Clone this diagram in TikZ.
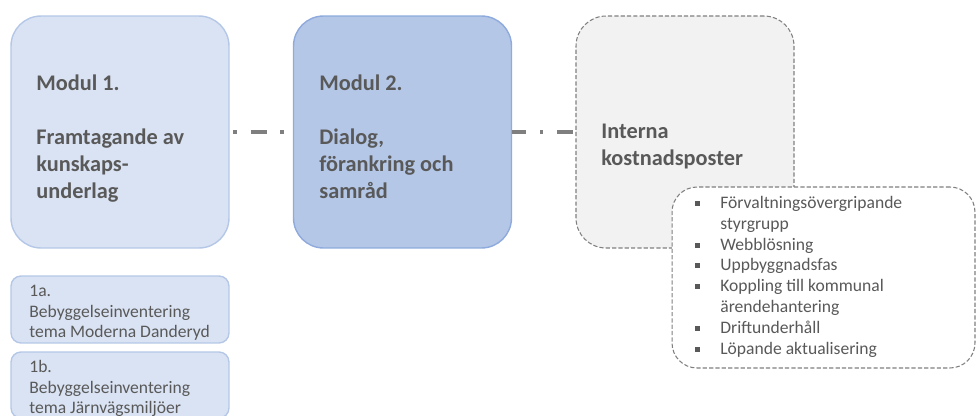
\documentclass[tikz,border=0pt]{standalone}
\usepackage{fontspec}
\setmainfont{Carlito}
\usetikzlibrary{positioning}
\definecolor{modfillA}{HTML}{DAE3F3}
\definecolor{modlineA}{HTML}{B4C7E7}
\definecolor{modfillB}{HTML}{B4C7E7}
\definecolor{modlineB}{HTML}{8FAADC}
\definecolor{costfill}{HTML}{F2F2F2}
\definecolor{dashgray}{HTML}{7F7F7F}
\definecolor{txtgray}{HTML}{595959}

\begin{document}
\begin{tikzpicture}[x=0.02cm, y=-0.02cm,
		modbox/.style={line width=0.8pt, rounded corners=0.6cm, minimum width=4.36cm, minimum height=4.64cm, inner sep=0pt},
		subbox/.style={fill=modfillA, draw=modlineA, line width=0.8pt, rounded corners=0.2cm, minimum width=4.36cm, inner sep=0pt},
		dashbox/.style={draw=dashgray, line width=0.6pt, dash pattern=on 2.4pt off 1.2pt, inner sep=0pt},
		linkline/.style={draw=dashgray, line width=2pt, dash pattern=on 9.1pt off 7.8pt on 2pt off 7.8pt},
		headtext/.style={anchor=north west, inner sep=0pt, align=left, text=txtgray, font=\fontsize{12.7}{15.4}\selectfont\bfseries},
		subtext/.style={anchor=north west, inner sep=0pt, align=left, text=txtgray, font=\fontsize{10}{11.7}\selectfont},
		itemtext/.style={anchor=base west, inner sep=0pt, text=txtgray, font=\fontsize{10}{12}\selectfont}]
	\useasboundingbox (0,0) rectangle (978,416);
	% the three main boxes
	\node[modbox, fill=modfillA, draw=modlineA] (m1) at (120,132) {};
	\node[modbox, fill=modfillB, draw=modlineB] (m2) at (402.5,132) {};
	\node[modbox, dashbox, fill=costfill] (m3) at (685,132) {};
	\node[dashbox, fill=white, rounded corners=0.5cm, minimum width=6.06cm, minimum height=3.62cm] (poster) at (823.5,277.5) {};
	% sub modules
	\node[subbox, minimum height=1.34cm] (m1a) at (120,309.5) {};
	\node[subbox, minimum height=1.32cm] (m1b) at (120,385) {};
	\draw[linkline, dash phase=14.8pt] (m1) -- (m2);
	\draw[linkline, dash phase=1.1pt] (m2) -- (m3);
	% texts
	\node[headtext] (m1t) at (36,74) {Modul 1.\\[15.4pt]Framtagande av\\kunskaps-\\underlag};
	\node[headtext] (m2t) at (319,74) {Modul 2.\\[15.4pt]Dialog,\\förankring och\\samråd};
	\node[headtext] (m3t) at (601,124) {Interna\\kostnadsposter};
	\node[subtext] (m1at) at (29,285) {1a.\\Bebyggelseinventering\\tema Moderna Danderyd};
	\node[subtext] (m1bt) at (29,360) {1b.\\Bebyggelseinventering\\tema Järnvägsmiljöer};
	\foreach \yy/\txt [count=\i] in {208/Förvaltningsövergripande, 229/styrgrupp, 250/Webblösning,
			270/Uppbyggnadsfas, 291/Koppling till kommunal, 312/ärendehantering, 333/Driftunderhåll,
			354/Löpande aktualisering}
		\node[itemtext] (ln\i) at (720,\yy) {\txt};
	\foreach \yy in {208,250,270,291,333,354}
		\fill[txtgray] (695,\yy-7) rectangle ++(4.5,4.5);
\end{tikzpicture}
\end{document}
